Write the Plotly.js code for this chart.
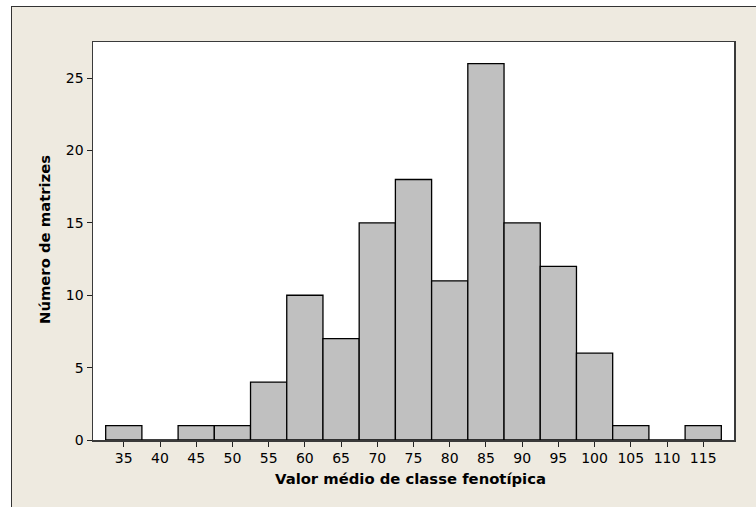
<!DOCTYPE html>
<html>
<head>
<meta charset="utf-8">
<script src="https://cdn.plot.ly/plotly-3.0.1.min.js"></script>
<style>
  html, body { margin: 0; padding: 0; background: #ffffff; width: 756px; height: 507px; overflow: hidden; }
  #frame {
    position: absolute; left: 11px; top: 6px;
    width: 745px; height: 501px;
    border-top: 1px solid #333333; border-left: 1px solid #333333;
    box-sizing: border-box; background: #EEEAE0;
  }
  #chart { position: absolute; left: 0; top: 0; }
</style>
</head>
<body>
<div id="frame"><div id="chart"></div></div>
<script>
// Class midpoints (phenotypic class mean value) and the number of matrices in each
const classMidpoints = [35, 40, 45, 50, 55, 60, 65, 70, 75, 80, 85, 90, 95, 100, 105, 110, 115];
const matrixCounts   = [1, 0, 1, 1, 4, 10, 7, 15, 18, 11, 26, 15, 12, 6, 1, 0, 1];
const xTickValues = [35, 40, 45, 50, 55, 60, 65, 70, 75, 80, 85, 90, 95, 100, 105, 110, 115];
const yTickValues = [0, 5, 10, 15, 20, 25];
const xTitle = 'Valor médio de classe fenotípica';
const yTitle = 'Número de matrizes';

const font = 'DejaVu Sans, Verdana, sans-serif';

const trace = {
  type: 'bar',
  x: classMidpoints,
  y: matrixCounts,
  width: 5,
  marker: { color: '#C0C0C0', line: { color: '#000000', width: 1.3 } },
  hoverinfo: 'x+y'
};

const axisCommon = {
  showgrid: false, zeroline: false,
  showline: true, mirror: true, linecolor: '#3a3a3a', linewidth: 1.5,
  ticks: 'outside', ticklen: 5, tickwidth: 1, tickcolor: '#222222',
  tickfont: { family: font, size: 14, color: '#000000' },
  fixedrange: true
};

const layout = {
  width: 744, height: 500,
  margin: { l: 81, r: 22, t: 35, b: 67 },
  paper_bgcolor: 'rgba(0,0,0,0)',
  plot_bgcolor: '#ffffff',
  showlegend: false,
  bargap: 0,
  xaxis: Object.assign({}, axisCommon, {
    range: [30.75, 119.25],
    tickmode: 'array', tickvals: xTickValues,
    ticktext: xTickValues.map(String)
  }),
  yaxis: Object.assign({}, axisCommon, {
    range: [0, 27.5],
    tickmode: 'array', tickvals: yTickValues,
    ticktext: yTickValues.map(String)
  }),
  annotations: [
    {
      text: '<b>' + xTitle + '</b>', showarrow: false,
      xref: 'paper', yref: 'paper', x: 0.5, y: 0,
      xanchor: 'center', yanchor: 'middle', xshift: -3, yshift: -38,
      font: { family: font, size: 14.8, color: '#000000' }
    },
    {
      text: '<b>' + yTitle + '</b>', showarrow: false, textangle: -90,
      xref: 'paper', yref: 'paper', x: 0, y: 0.5,
      xanchor: 'center', yanchor: 'middle', xshift: -49, yshift: 1,
      font: { family: font, size: 14.8, color: '#000000' }
    }
  ]
};

Plotly.newPlot('chart', [trace], layout, { displayModeBar: false, staticPlot: true });
</script>
</body>
</html>
